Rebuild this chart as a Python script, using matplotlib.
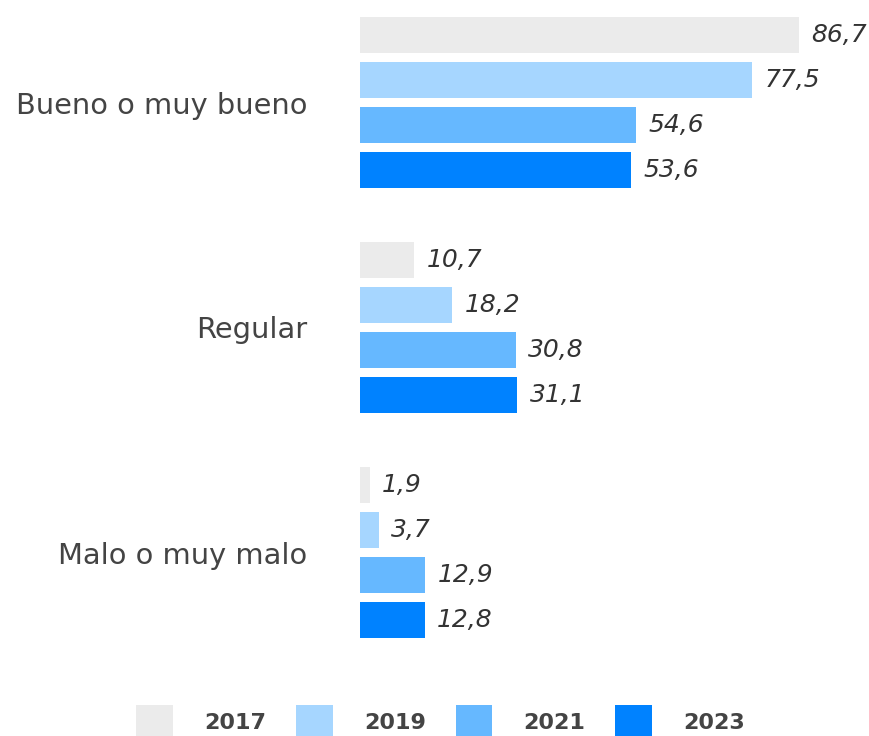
import matplotlib.pyplot as plt
from matplotlib.patches import Patch

categories = ["Bueno o muy bueno", "Regular", "Malo o muy malo"]
years = ["2017", "2019", "2021", "2023"]
values = {
    "2017": [86.7, 10.7, 1.9],
    "2019": [77.5, 18.2, 3.7],
    "2021": [54.6, 30.8, 12.9],
    "2023": [53.6, 31.1, 12.8],
}
colors = ["#EBEBEB", "#A6D6FF", "#66B8FF", "#0082FF"]

plt.rcParams['font.family'] = ['DejaVu Sans']

fig = plt.figure(figsize=(8.69, 7.36), dpi=100)
ax = fig.add_axes([360 / 869, (736 - 660) / 736, 506 / 869, 660 / 736])

group_step = 5
for j, yr in enumerate(years):
    ys = [g * group_step + j for g in range(len(categories))]
    bars = ax.barh(ys, values[yr], height=0.82, color=colors[j], edgecolor='none')
    for b, v in zip(bars, values[yr]):
        ax.annotate(f"{v:.1f}".replace(".", ","),
                    (b.get_width(), b.get_y() + b.get_height() / 2),
                    xytext=(9, 0), textcoords='offset points',
                    ha='left', va='center', fontsize=18, style='italic', color='#333333')

ax.set_xlim(0, 100)
ax.set_ylim((660 - 35) / 45, -35 / 45)
ax.set_yticks([g * group_step + 1.5 for g in range(len(categories))])
ax.set_yticklabels(categories, fontsize=20.8, color='#444444')
ax.tick_params(axis='y', length=0, pad=38)
ax.set_xticks([])
for s in ax.spines.values():
    s.set_visible(False)

handles = [Patch(facecolor=c, edgecolor='none') for c in colors]
fig.legend(handles, years, loc='lower center', bbox_to_anchor=(0.507, -0.03), ncol=4,
           frameon=False, handlelength=1.65, handleheight=1.9, handletextpad=1.4,
           columnspacing=1.35, prop={'size': 16, 'weight': 'bold'}, labelcolor='#444444')

fig.savefig("out.png", dpi=100)
